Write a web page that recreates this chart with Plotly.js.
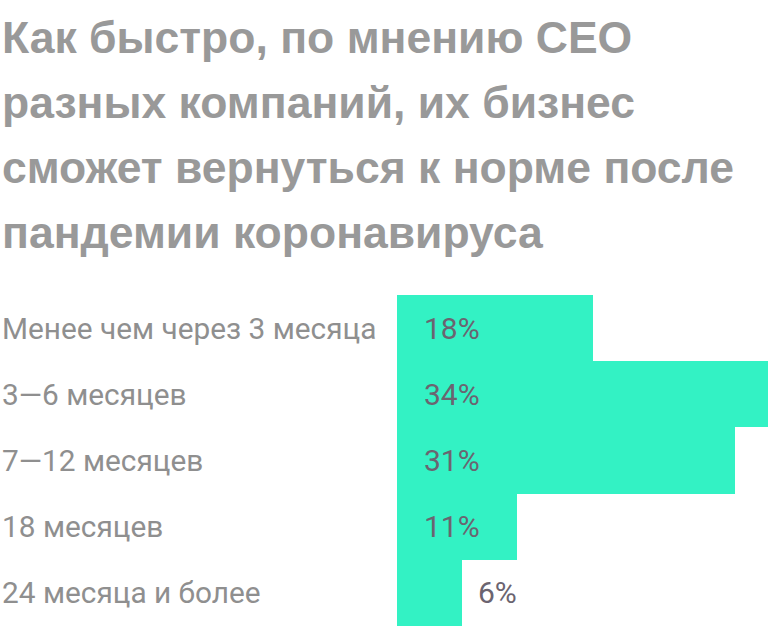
<!DOCTYPE html>
<html>
<head>
<meta charset="utf-8">
<script src="https://cdn.plot.ly/plotly-3.0.1.min.js"></script>
<style>
html,body{margin:0;padding:0;background:#fff;}
#chart{width:768px;height:628px;}
</style>
</head>
<body>
<div id="chart"></div>
<script>
const titleLines = [
  "Как быстро, по мнению CEO",
  "разных компаний, их бизнес",
  "сможет вернуться к норме после",
  "пандемии коронавируса"
];
const categories = [
  "Менее чем через 3 месяца",
  "3—6 месяцев",
  "7—12 месяцев",
  "18 месяцев",
  "24 месяца и более"
];
const values = [18, 34, 31, 11, 6];

const W = 768, H = 628;
const ML = 397, MT = 295, MB = 2, MR = 0;
const plotW = W - ML - MR;

const annotations = [];
titleLines.forEach((t, i) => {
  annotations.push({
    text: t, xref: 'paper', yref: 'paper', showarrow: false,
    x: -ML / plotW, xanchor: 'left', xshift: 0,
    y: 1, yanchor: 'middle', yshift: MT - 37 - 65 * i,
    font: {family: '"Liberation Sans", Arial, sans-serif', size: 44.5, color: '#999999', weight: 700}
  });
});
categories.forEach((c, i) => {
  annotations.push({
    text: c, xref: 'paper', yref: 'y', showarrow: false,
    x: -ML / plotW, xanchor: 'left', y: c, yanchor: 'middle', yshift: 0,
    font: {family: 'Roboto, Arial, sans-serif', size: 29.8, color: '#8f8f8f'}
  });
  const inside = values[i] >= 10;
  annotations.push({
    text: values[i] + '%', xref: 'x', yref: 'y', showarrow: false,
    x: inside ? 0 : values[i], xanchor: 'left', xshift: inside ? 25 : 14,
    y: c, yanchor: 'middle',
    font: {family: 'Roboto, Arial, sans-serif', size: 30, color: '#6b6470'}
  });
});

const data = [{
  type: 'bar', orientation: 'h',
  x: values, y: categories,
  marker: {color: '#33f2c4', line: {width: 0}},
  hoverinfo: 'none'
}];

const layout = {
  width: W, height: H,
  margin: {l: ML, r: MR, t: MT, b: MB, pad: 0},
  paper_bgcolor: '#ffffff', plot_bgcolor: '#ffffff',
  showlegend: false,
  bargap: 0,
  xaxis: {range: [0, 34], visible: false, fixedrange: true},
  yaxis: {autorange: 'reversed', visible: false, fixedrange: true},
  annotations: annotations
};

Plotly.newPlot('chart', data, layout, {displayModeBar: false, staticPlot: true});
</script>
</body>
</html>
